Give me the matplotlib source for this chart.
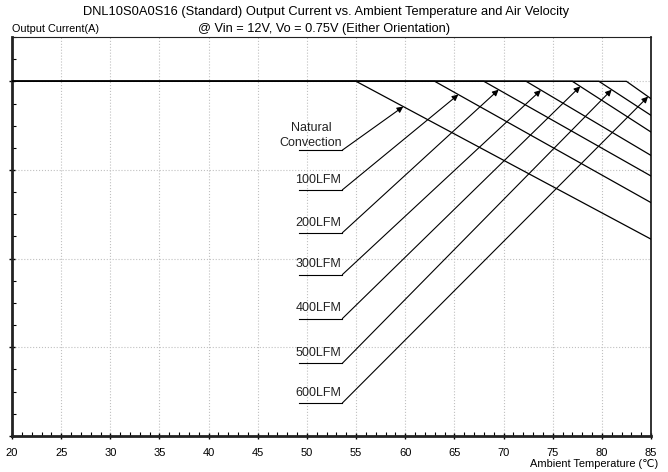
import numpy as np
import matplotlib
matplotlib.use("Agg")
from matplotlib import pyplot as plt
from matplotlib.ticker import MultipleLocator

plt.rcParams['font.family'] = ['Liberation Sans', 'DejaVu Sans']

# derating curves: flat at i_max until t_start, then straight down to t_end
labels = ["Natural\nConvection", "100LFM", "200LFM", "300LFM", "400LFM", "500LFM", "600LFM"]
i_max = 10.0
t_start = [55.0, 63.0, 68.0, 72.3, 77.0, 79.7, 82.5]
t_end = 85.0
i_end = [5.55, 6.58, 7.33, 7.91, 8.57, 9.04, 9.51]

# label underline heights and where the arrows hit the curves
label_y = [8.06, 6.94, 5.73, 4.55, 3.31, 2.05, 0.93]
arrow_t = [59.8, 65.4, 69.5, 73.8, 77.8, 81.0, 84.7]

fig = plt.figure(figsize=(6.68, 4.72), dpi=100)
ax = fig.add_axes([0.018, 0.0763, 0.9566, 0.8453])

for ts, ie in zip(t_start, i_end):
    ax.plot([20, ts, t_end], [i_max, i_max, ie], color='black', lw=0.9, zorder=3)

line_x0, line_x1 = 49.2, 53.6
for lab, ly, at, ts, ie in zip(labels, label_y, arrow_t, t_start, i_end):
    ay = np.interp(at, [20, ts, t_end], [i_max, i_max, ie])
    ax.plot([line_x0, line_x1], [ly, ly], color='black', lw=0.8, zorder=3)
    ax.annotate("", xy=(at, ay), xytext=(line_x1, ly),
                arrowprops=dict(arrowstyle='-|>', color='black', lw=0.8,
                                mutation_scale=9, shrinkA=0, shrinkB=0),
                zorder=4)
    if "\n" in lab:
        ax.text(50.4, ly + 0.04, lab, ha='center', va='bottom', fontsize=9,
                linespacing=1.35, color='#222222')
    else:
        ax.text(line_x1 - 0.1, ly + 0.12, lab, ha='right', va='bottom', fontsize=9,
                color='#222222')

ax.set_xlim(20, 85)
ax.set_ylim(0, 11.25)
ax.xaxis.set_major_locator(MultipleLocator(5))
ax.xaxis.set_minor_locator(MultipleLocator(1))
ax.yaxis.set_major_locator(MultipleLocator(2.5))
ax.yaxis.set_minor_locator(MultipleLocator(0.625))
ax.set_yticklabels([])
ax.tick_params(axis='both', which='major', direction='inout', length=5, width=1, labelsize=8)
ax.tick_params(axis='both', which='minor', direction='in', length=3, width=0.8)
ax.tick_params(axis='x', pad=6)
ax.grid(True, which='major', color='#c0c0c0', linestyle=':', lw=0.8)

for side, w in [('left', 2), ('bottom', 2), ('right', 1.3), ('top', 0.8)]:
    ax.spines[side].set_linewidth(w)
    ax.spines[side].set_color('#222222')

fig.text(326 / 668, 1 - 12 / 472, "DNL10S0A0S16 (Standard) Output Current vs. Ambient Temperature and Air Velocity",
         ha='center', va='center', fontsize=9.25)
fig.text(324 / 668, 1 - 29 / 472, "@ Vin = 12V, Vo = 0.75V (Either Orientation)",
         ha='center', va='center', fontsize=9.2)
fig.text(12 / 668, 1 - 29 / 472, "Output Current(A)", ha='left', va='center', fontsize=7.8)
fig.text(658 / 668, 1 - 464 / 472, "Ambient Temperature (\u2103)", ha='right', va='center', fontsize=7.9)

fig.savefig("out.png", dpi=100)
